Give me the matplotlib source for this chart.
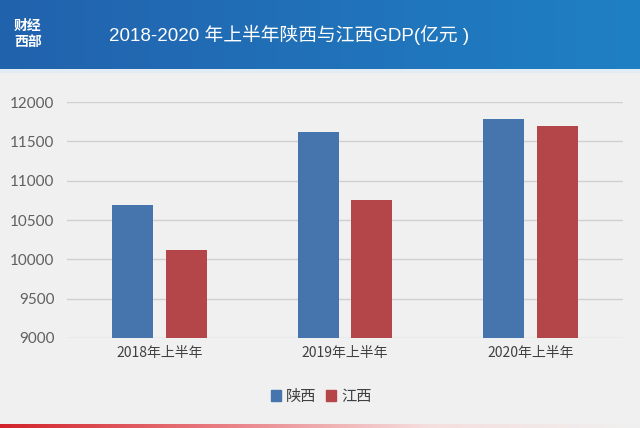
import numpy as np
import matplotlib.pyplot as plt
from matplotlib.colors import LinearSegmentedColormap
from matplotlib.patches import Patch

# data (亿元)
categories = ["2018年上半年", "2019年上半年", "2020年上半年"]
shaanxi = [10690, 11620, 11790]
jiangxi = [10115, 10760, 11690]
series_names = ["陕西", "江西"]
y_ticks = [9000, 9500, 10000, 10500, 11000, 11500, 12000]

W, H = 640, 428
bg = "#f0f0f0"
blue = "#4674ad"
red = "#b4464a"
cjk = ["Noto Sans CJK SC", "DejaVu Sans"]
plt.rcParams["font.family"] = cjk

fig = plt.figure(figsize=(W / 100, H / 100), dpi=100, facecolor=bg)

# header band with gradient
hdr = fig.add_axes([0, 1 - 69 / H, 1, 69 / H])
cm_hdr = LinearSegmentedColormap.from_list("hdr", ["#2262ad", "#1f80c4"])
hdr.imshow(np.linspace(0, 1, 256).reshape(1, -1), aspect="auto", cmap=cm_hdr,
           extent=[0, 1, 0, 1])
hdr.set_axis_off()
strip = fig.add_axes([0, 1 - 73 / H, 1, 4 / H])
strip.set_axis_off()
strip.add_patch(plt.Rectangle((0, 0), 1, 1, color="#e2ecf5", transform=strip.transAxes))

# logo
fig.text(28 / W, 1 - 26 / H, "财经", color="white", fontsize=10, fontweight="bold",
         ha="center", va="center")
fig.text(28 / W, 1 - 42 / H, "西部", color="white", fontsize=10, fontweight="bold",
         ha="center", va="center")
fig.text(289 / W, 1 - 35 / H, "2018-2020 年上半年陕西与江西GDP(亿元 )", color="white",
         fontsize=13.5, ha="center", va="center",
         family=["Liberation Sans", "Noto Sans CJK SC"])

# bottom red strip
bot = fig.add_axes([0, 0, 1, 4 / H])
cm_bot = LinearSegmentedColormap.from_list("bot", ["#d2232b", "#e87a80", "#f6dede", "#f0f0f0"])
bot.imshow(np.linspace(0, 1, 256).reshape(1, -1), aspect="auto", cmap=cm_bot,
           extent=[0, 1, 0, 1])
bot.set_axis_off()

# main chart
ax = fig.add_axes([67 / W, 90 / H, 556 / W, 236 / H])
ax.set_facecolor(bg)
x = np.arange(len(categories))
bw = 0.222
off = 0.145
ax.bar(x - off, shaanxi, bw, color=blue, label=series_names[0], zorder=3)
ax.bar(x + off, jiangxi, bw, color=red, label=series_names[1], zorder=3)
ax.set_ylim(9000, 12000)
ax.set_xlim(-0.5, 2.5)
ax.set_yticks(y_ticks)
ax.set_yticklabels([str(v) for v in y_ticks], family=["Lato", "DejaVu Sans"])
ax.set_xticks(x)
ax.set_xticklabels(categories)
ax.tick_params(axis="y", length=0, pad=9, labelsize=11, colors="#606060")
ax.tick_params(axis="x", length=0, pad=6, labelsize=10, colors="#404040")
ax.grid(axis="y", color="#d0d0d0", linewidth=1, zorder=0)
for s in ax.spines.values():
    s.set_visible(False)

handles = [Patch(color=blue), Patch(color=red)]
fig.legend(handles, series_names, loc="center", bbox_to_anchor=(321 / W, 1 - 396 / H),
           ncol=2, frameon=False, fontsize=11, handlelength=0.7, handleheight=0.7,
           handletextpad=0.3, columnspacing=0.6, labelcolor="#404040")

fig.savefig("out.png", dpi=100, facecolor=bg)
